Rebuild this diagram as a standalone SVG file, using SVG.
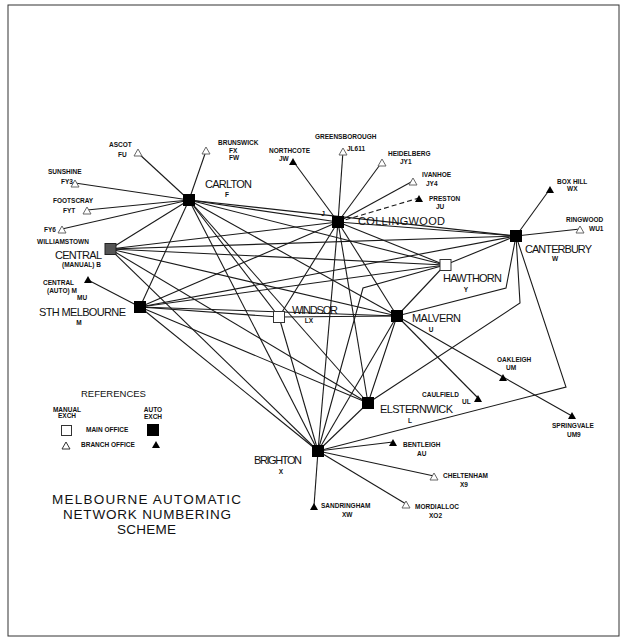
<svg xmlns="http://www.w3.org/2000/svg" width="625" height="644" viewBox="0 0 625 644">
<style>
.e{stroke:#1a1a1a;stroke-width:1.1;fill:none}
.d{stroke:#1a1a1a;stroke-width:1.1;fill:none;stroke-dasharray:5,3}
.big{font-family:"Liberation Sans",Arial,sans-serif;font-size:11px;fill:#111}
.sm{font-family:"Liberation Sans",Arial,sans-serif;font-size:6.5px;font-weight:bold;fill:#111}
.ttl{font-family:"Liberation Sans",Arial,sans-serif;font-size:13.5px;fill:#111}
.auto{fill:#000}
.man{fill:#fff;stroke:#333;stroke-width:1}
.bo{fill:#fff;stroke:#666;stroke-width:1}
.ba{fill:#000}
</style>
<rect x="8" y="5" width="611" height="631" fill="#fff" stroke="#333" stroke-width="1"/>
<g id="connectors">
<line class="e" x1="189" y1="200" x2="338" y2="222"/>
<line class="e" x1="189" y1="200" x2="516" y2="236"/>
<line class="e" x1="189" y1="200" x2="445" y2="265"/>
<line class="e" x1="189" y1="200" x2="397" y2="316"/>
<line class="e" x1="189" y1="200" x2="368" y2="403"/>
<line class="e" x1="189" y1="200" x2="318" y2="451"/>
<line class="e" x1="189" y1="200" x2="279" y2="317"/>
<line class="e" x1="189" y1="200" x2="110" y2="249"/>
<line class="e" x1="189" y1="200" x2="140" y2="307"/>
<line class="e" x1="338" y1="222" x2="516" y2="236"/>
<line class="e" x1="338" y1="222" x2="445" y2="265"/>
<line class="e" x1="338" y1="222" x2="397" y2="316"/>
<line class="e" x1="338" y1="222" x2="368" y2="403"/>
<line class="e" x1="338" y1="222" x2="318" y2="451"/>
<line class="e" x1="338" y1="222" x2="279" y2="317"/>
<line class="e" x1="338" y1="222" x2="140" y2="307"/>
<line class="e" x1="338" y1="222" x2="110" y2="249"/>
<line class="e" x1="516" y1="236" x2="445" y2="265"/>
<line class="e" x1="516" y1="236" x2="110" y2="249"/>
<line class="e" x1="516" y1="236" x2="140" y2="307"/>
<polyline class="e" points="516,236 506,288 397,316"/>
<polyline class="e" points="516,236 520,303 368,403"/>
<polyline class="e" points="516,236 566,387 318,451"/>
<line class="e" x1="445" y1="265" x2="397" y2="316"/>
<line class="e" x1="445" y1="265" x2="140" y2="307"/>
<line class="e" x1="445" y1="265" x2="110" y2="249"/>
<polyline class="e" points="445,265 363,288 318,451"/>
<line class="e" x1="397" y1="316" x2="279" y2="317"/>
<line class="e" x1="397" y1="316" x2="140" y2="307"/>
<line class="e" x1="397" y1="316" x2="110" y2="249"/>
<line class="e" x1="397" y1="316" x2="368" y2="403"/>
<line class="e" x1="397" y1="316" x2="318" y2="451"/>
<line class="e" x1="279" y1="317" x2="140" y2="307"/>
<line class="e" x1="279" y1="317" x2="318" y2="451"/>
<line class="e" x1="368" y1="403" x2="140" y2="307"/>
<line class="e" x1="368" y1="403" x2="318" y2="451"/>
<line class="e" x1="368" y1="403" x2="110" y2="249"/>
<line class="e" x1="318" y1="451" x2="140" y2="307"/>
<line class="e" x1="318" y1="451" x2="110" y2="249"/>
<line class="e" x1="189" y1="200" x2="138" y2="153"/>
<line class="e" x1="189" y1="200" x2="206" y2="151"/>
<line class="e" x1="189" y1="200" x2="75" y2="183"/>
<line class="e" x1="189" y1="200" x2="87" y2="210"/>
<line class="e" x1="189" y1="200" x2="62" y2="229"/>
<line class="e" x1="338" y1="222" x2="293" y2="161"/>
<line class="e" x1="338" y1="222" x2="343" y2="151"/>
<line class="e" x1="338" y1="222" x2="382" y2="162"/>
<line class="e" x1="338" y1="222" x2="413" y2="181"/>
<line class="d" x1="338" y1="222" x2="419" y2="198"/>
<line class="e" x1="516" y1="236" x2="550" y2="189"/>
<line class="e" x1="516" y1="236" x2="580" y2="229"/>
<polyline class="e" points="397,316 503,377 572,416"/>
<line class="e" x1="397" y1="316" x2="478" y2="398"/>
<line class="e" x1="318" y1="451" x2="393" y2="442"/>
<line class="e" x1="318" y1="451" x2="434" y2="476"/>
<line class="e" x1="318" y1="451" x2="406" y2="504"/>
<line class="e" x1="318" y1="451" x2="314" y2="506"/>
<line class="e" x1="140" y1="307" x2="88" y2="280"/>
</g>
<g id="carlton"><rect class="auto" x="183" y="194" width="12" height="12"/><text class="big" x="205" y="188" textLength="47">CARLTON</text><text class="sm" x="227" y="197" text-anchor="middle">F</text></g>
<g id="collingwood"><rect class="auto" x="332" y="216" width="12" height="12"/><text class="big" x="358" y="225" textLength="87">COLLINGWOOD</text><text class="sm" x="323" y="216" text-anchor="middle">J</text></g>
<g id="canterbury"><rect class="auto" x="510" y="230" width="12" height="12"/><text class="big" x="525" y="253" textLength="67">CANTERBURY</text><text class="sm" x="555" y="261" text-anchor="middle">W</text></g>
<g id="hawthorn"><rect class="man" x="440" y="259.5" width="11" height="11"/><text class="big" x="443" y="282" textLength="59">HAWTHORN</text><text class="sm" x="466" y="292" text-anchor="middle">Y</text></g>
<g id="malvern"><rect class="auto" x="391" y="310" width="12" height="12"/><text class="big" x="412" y="322" textLength="49">MALVERN</text><text class="sm" x="431" y="332" text-anchor="middle">U</text></g>
<g id="windsor"><rect class="man" x="273.5" y="311.5" width="11" height="11"/><text class="big" x="292" y="314" textLength="46">WINDSOR</text><text class="sm" x="309" y="323" text-anchor="middle">LX</text></g>
<g id="sthmelbourne"><rect class="auto" x="134" y="301" width="12" height="12"/><text class="big" x="39" y="316" textLength="87">STH  MELBOURNE</text><text class="sm" x="79" y="325" text-anchor="middle">M</text></g>
<g id="central"><rect x="105" y="243.5" width="11" height="11" fill="#555" stroke="#222" stroke-width="1"/><text class="big" x="55" y="259" textLength="47">CENTRAL</text><text class="sm" x="62" y="267">(MANUAL) B</text></g>
<g id="elsternwick"><rect class="auto" x="362" y="397" width="12" height="12"/><text class="big" x="380" y="413" textLength="73">ELSTERNWICK</text><text class="sm" x="410" y="423" text-anchor="middle">L</text></g>
<g id="brighton"><rect class="auto" x="312" y="445" width="12" height="12"/><text class="big" x="254" y="464" textLength="48">BRIGHTON</text><text class="sm" x="281" y="474" text-anchor="middle">X</text></g>
<g id="centralauto"><polygon class="ba" points="88,276 92,283 84,283"/><text class="sm" x="43" y="285">CENTRAL</text><text class="sm" x="47" y="293">(AUTO)  M</text><text class="sm" x="77" y="300">MU</text></g>
<g id="ascot"><polygon class="bo" points="138,149 142,156 134,156"/><text class="sm" x="109" y="147">ASCOT</text><text class="sm" x="118" y="157">FU</text></g>
<g id="brunswick"><polygon class="bo" points="206,147 210,154 202,154"/><text class="sm" x="218" y="145">BRUNSWICK</text><text class="sm" x="229" y="153">FX</text><text class="sm" x="229" y="160">FW</text></g>
<g id="northcote"><polygon class="ba" points="293,158 297,165 289,165"/><text class="sm" x="269" y="153">NORTHCOTE</text><text class="sm" x="279" y="161">JW</text></g>
<g id="greensborough"><polygon class="bo" points="343,148 347,155 339,155"/><text class="sm" x="315" y="139">GREENSBOROUGH</text><text class="sm" x="347" y="151">JL611</text></g>
<g id="heidelberg"><polygon class="bo" points="382,159 386,166 378,166"/><text class="sm" x="388" y="156">HEIDELBERG</text><text class="sm" x="400" y="164">JY1</text></g>
<g id="ivanhoe"><polygon class="bo" points="413,178 417,185 409,185"/><text class="sm" x="422" y="177">IVANHOE</text><text class="sm" x="426" y="186">JY4</text></g>
<g id="preston"><polygon class="ba" points="419,195 423,202 415,202"/><text class="sm" x="429" y="201">PRESTON</text><text class="sm" x="436" y="209">JU</text></g>
<g id="boxhill"><polygon class="ba" points="550,186 554,193 546,193"/><text class="sm" x="557" y="184">BOX  HILL</text><text class="sm" x="567" y="191">WX</text></g>
<g id="ringwood"><polygon class="bo" points="580,226 584,233 576,233"/><text class="sm" x="566" y="222">RINGWOOD</text><text class="sm" x="589" y="231">WU1</text></g>
<g id="sunshine"><polygon class="bo" points="75,180 79,187 71,187"/><text class="sm" x="48" y="174">SUNSHINE</text><text class="sm" x="61" y="184">FY3</text></g>
<g id="footscray"><polygon class="bo" points="87,207 91,214 83,214"/><text class="sm" x="53" y="203">FOOTSCRAY</text><text class="sm" x="63" y="213">FYT</text></g>
<g id="williamstown"><polygon class="bo" points="62,226 66,233 58,233"/><text class="sm" x="44" y="232">FY6</text><text class="sm" x="37" y="244">WILLIAMSTOWN</text></g>
<g id="oakleigh"><polygon class="ba" points="503,374 507,381 499,381"/><text class="sm" x="497" y="362">OAKLEIGH</text><text class="sm" x="506" y="370">UM</text></g>
<g id="caulfield"><polygon class="ba" points="478,395 482,402 474,402"/><text class="sm" x="422" y="397">CAULFIELD</text><text class="sm" x="462" y="404">UL</text></g>
<g id="springvale"><polygon class="ba" points="572,412 576,419 568,419"/><text class="sm" x="552" y="428">SPRINGVALE</text><text class="sm" x="567" y="437">UM9</text></g>
<g id="bentleigh"><polygon class="ba" points="393,439 397,446 389,446"/><text class="sm" x="403" y="447">BENTLEIGH</text><text class="sm" x="417" y="456">AU</text></g>
<g id="cheltenham"><polygon class="bo" points="434,473 438,480 430,480"/><text class="sm" x="443" y="478">CHELTENHAM</text><text class="sm" x="460" y="487">X9</text></g>
<g id="mordialloc"><polygon class="bo" points="406,501 410,508 402,508"/><text class="sm" x="415" y="509">MORDIALLOC</text><text class="sm" x="429" y="518">XO2</text></g>
<g id="sandringham"><polygon class="ba" points="314,503 318,510 310,510"/><text class="sm" x="321" y="508">SANDRINGHAM</text><text class="sm" x="342" y="517">XW</text></g>
<g id="legend">
<text x="81" y="397" font-family="Liberation Sans, Arial, sans-serif" font-size="9.5" fill="#111">REFERENCES</text>
<text class="sm" x="67" y="412" text-anchor="middle">MANUAL</text><text class="sm" x="67" y="418" text-anchor="middle">EXCH</text>
<text class="sm" x="153" y="412" text-anchor="middle">AUTO</text><text class="sm" x="153" y="419" text-anchor="middle">EXCH</text>
<rect class="man" x="61.5" y="425.5" width="10" height="10"/>
<rect class="auto" x="147" y="424" width="12" height="12"/>
<text class="sm" x="86" y="432">MAIN  OFFICE</text>
<polygon class="man" points="66,442 70,449 62,449"/>
<polygon class="ba" points="156,441 160,448 152,448"/>
<text class="sm" x="81" y="447">BRANCH  OFFICE</text>
</g>
<g id="title">
<text class="ttl" x="146.5" y="504" text-anchor="middle" textLength="189">MELBOURNE  AUTOMATIC</text>
<text class="ttl" x="147" y="519" text-anchor="middle" textLength="168">NETWORK  NUMBERING</text>
<text class="ttl" x="146.5" y="534" text-anchor="middle" textLength="59">SCHEME</text>
</g>
</svg>
